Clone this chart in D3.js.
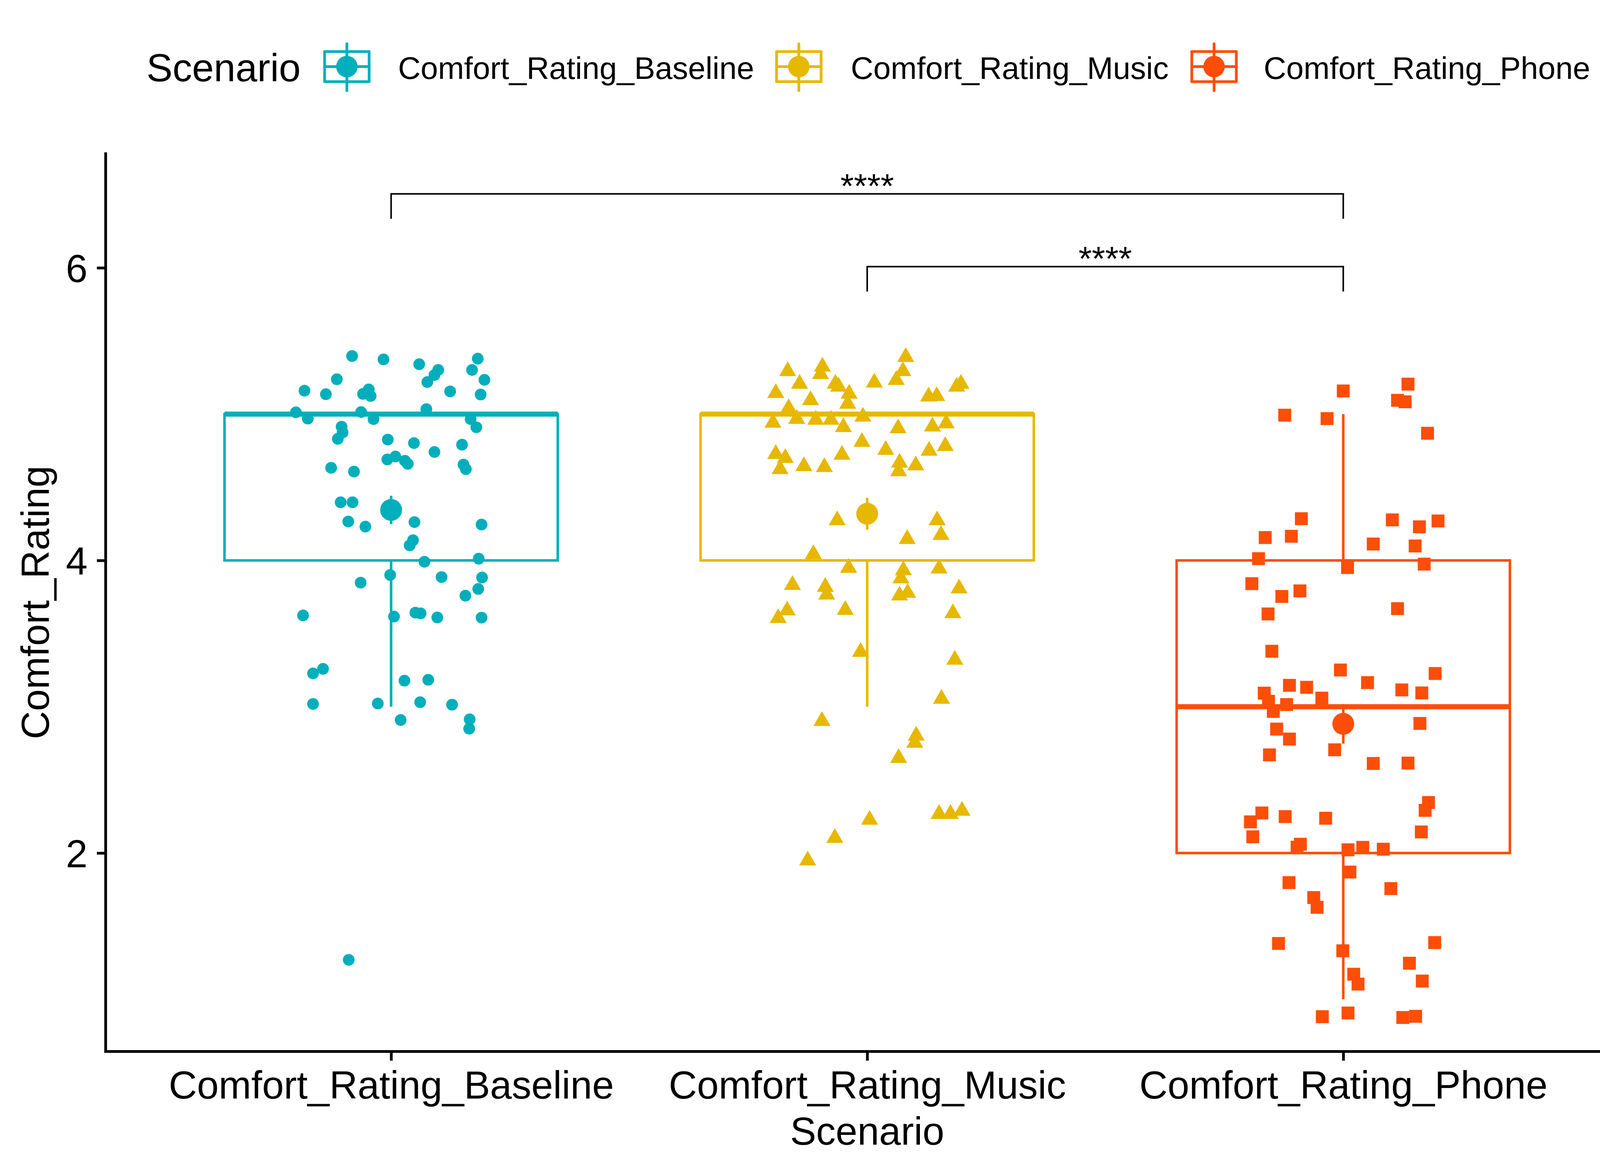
<!DOCTYPE html>
<html><head><meta charset="utf-8">
<script src="https://cdn.jsdelivr.net/npm/d3@7"></script>
<style>
body{margin:0;background:#fff}
svg{display:block;background:#fff}
text{font-family:"Liberation Sans",Arial,Helvetica,sans-serif;fill:#000}
</style>
</head><body>
<svg id="chart" width="4200" height="3000"></svg>
<script>
// ---------------- data ----------------
const categories = ["Comfort_Rating_Baseline", "Comfort_Rating_Music", "Comfort_Rating_Phone"];
const colors = ["#00AFBB", "#E7B800", "#FC4E07"];
const shapes = ["circle", "triangle", "square"];

// boxplot statistics
const q1 = [4, 4, 2];
const medians = [5, 5, 3];
const q3 = [5, 5, 4];
const whiskerLow = [3, 3, 1];
const whiskerHigh = [5, 5, 5];

// mean +/- se
const means = [4.345, 4.319, 2.883];
const meanSE = [0.097, 0.109, 0.135];

const yTicks = [2, 4, 6];

// significance brackets
const comparisons = [
  {from: 0, to: 2, y: 6.505, label: "****"},
  {from: 1, to: 2, y: 6.008, label: "****"}
];
const bracketTip = 0.17;

// jittered points: [horizontal jitter (category units), value]
const baselinePoints = [
  [-0.082,5.397],[-0.016,5.374],[0.059,5.341],[0.182,5.379],[0.099,5.302],[0.091,5.267],[0.076,5.219],[0.170,5.302],[0.196,5.234],[-0.114,5.238],
  [-0.182,5.160],[-0.137,5.136],[-0.047,5.169],[-0.059,5.138],[-0.043,5.124],[0.124,5.155],[0.188,5.134],[-0.200,5.012],[-0.175,4.969],[-0.063,5.014],
  [-0.037,4.966],[0.074,5.034],[0.167,4.966],[0.179,4.910],[-0.104,4.914],[-0.102,4.874],[-0.112,4.831],[-0.007,4.826],[0.048,4.802],[0.091,4.741],
  [0.149,4.791],[-0.008,4.690],[0.009,4.710],[0.029,4.681],[0.035,4.660],[0.152,4.655],[0.157,4.624],[-0.126,4.633],[-0.078,4.607],[-0.106,4.397],
  [-0.081,4.397],[-0.090,4.266],[-0.054,4.231],[0.049,4.262],[0.190,4.245],[0.046,4.138],[0.039,4.103],[0.070,3.991],[0.184,4.012],[-0.002,3.900],
  [-0.064,3.848],[0.106,3.886],[0.191,3.883],[0.183,3.805],[0.156,3.759],[-0.185,3.624],[0.006,3.616],[0.051,3.643],[0.062,3.638],[0.097,3.610],
  [0.190,3.609],[-0.143,3.259],[-0.164,3.228],[0.028,3.178],[0.078,3.184],[-0.164,3.019],[-0.028,3.022],[0.061,3.031],[0.128,3.014],[0.020,2.909],
  [0.165,2.914],[0.164,2.850],[-0.089,1.270]
];
const musicPoints = [
  [0.081,5.390],[0.075,5.293],[0.061,5.233],[-0.167,5.293],[-0.094,5.324],[-0.098,5.273],[-0.142,5.207],[-0.067,5.207],[-0.060,5.187],[0.015,5.215],
  [0.188,5.187],[0.197,5.207],[-0.192,5.144],[-0.119,5.095],[-0.038,5.139],[0.129,5.120],[0.146,5.123],[-0.041,5.070],[-0.165,5.040],[-0.148,4.967],
  [-0.198,4.941],[-0.108,4.961],[-0.076,4.961],[-0.009,4.982],[-0.050,4.911],[0.065,4.903],[0.137,4.915],[0.166,4.936],[-0.011,4.810],[0.039,4.755],
  [0.130,4.749],[0.164,4.781],[-0.192,4.727],[-0.172,4.700],[-0.183,4.624],[-0.133,4.644],[-0.090,4.638],[-0.053,4.722],[0.068,4.668],[0.066,4.609],
  [0.102,4.649],[-0.063,4.274],[0.147,4.274],[0.155,4.174],[0.084,4.146],[-0.113,4.043],[-0.039,3.949],[0.076,3.932],[0.151,3.944],[0.071,3.877],
  [-0.157,3.832],[-0.088,3.819],[-0.085,3.766],[0.068,3.760],[0.085,3.778],[0.193,3.808],[-0.168,3.658],[-0.187,3.606],[-0.046,3.661],[0.180,3.639],
  [-0.014,3.375],[0.184,3.321],[0.156,3.054],[-0.095,2.902],[0.103,2.802],[0.100,2.753],[0.066,2.649],[0.005,2.227],[0.151,2.267],[0.175,2.267],
  [0.199,2.289],[-0.068,2.103],[-0.125,1.949]
];
const phonePoints = [
  [0.136,5.205],[0.000,5.158],[0.114,5.094],[0.130,5.084],[-0.123,4.993],[-0.034,4.969],[0.177,4.869],[-0.088,4.285],[0.103,4.277],[0.199,4.270],
  [0.160,4.230],[-0.164,4.156],[-0.109,4.165],[0.063,4.112],[0.151,4.099],[-0.178,4.012],[0.009,3.951],[0.170,3.975],[-0.192,3.841],[-0.129,3.754],
  [-0.091,3.792],[-0.158,3.634],[0.114,3.670],[-0.150,3.379],[-0.006,3.251],[0.051,3.165],[0.193,3.227],[-0.113,3.146],[-0.077,3.133],[-0.166,3.093],
  [0.123,3.115],[0.165,3.094],[-0.045,3.059],[-0.157,3.037],[-0.119,3.015],[-0.147,2.968],[-0.140,2.847],[-0.113,2.779],[-0.155,2.671],[-0.018,2.706],
  [0.161,2.886],[0.063,2.612],[0.136,2.615],[0.179,2.345],[0.172,2.292],[-0.171,2.274],[-0.195,2.213],[-0.122,2.249],[-0.037,2.238],[-0.190,2.111],
  [0.164,2.144],[-0.090,2.060],[-0.097,2.040],[0.010,2.022],[0.041,2.039],[0.084,2.026],[0.014,1.870],[-0.114,1.798],[0.100,1.757],[-0.062,1.696],
  [-0.055,1.629],[-0.136,1.382],[-0.001,1.332],[0.192,1.388],[0.139,1.247],[0.022,1.172],[0.031,1.104],[0.166,1.125],[-0.044,0.881],[0.010,0.907],
  [0.125,0.876],[0.152,0.884]
];
const groupPoints = [baselinePoints, musicPoints, phonePoints];

// ---------------- layout ----------------
const svg = d3.select("#chart");
const x = d3.scalePoint().domain(categories).range([270, 4170]).padding(0.6);
const step = x.step();
const y = d3.scaleLinear().domain([0.645, 6.781]).range([2691, 393]);
const boxHalf = 0.35 * step;
const lw = 6.5;

const symbolTypes = {circle: d3.symbolCircle, triangle: d3.symbolTriangle, square: d3.symbolSquare};
const symbolSizes = {circle: Math.PI * 15 * 15, triangle: 823, square: 1089};

// ---------------- boxplots ----------------
const gBox = svg.append("g");
categories.forEach((c, i) => {
  const cx = x(c);
  const g = gBox.append("g").attr("stroke", colors[i]).attr("stroke-width", lw);
  if (whiskerLow[i] < q1[i]) g.append("line").attr("x1", cx).attr("x2", cx).attr("y1", y(q1[i])).attr("y2", y(whiskerLow[i]));
  if (whiskerHigh[i] > q3[i]) g.append("line").attr("x1", cx).attr("x2", cx).attr("y1", y(q3[i])).attr("y2", y(whiskerHigh[i]));
  g.append("rect").attr("x", cx - boxHalf).attr("y", y(q3[i])).attr("width", 2 * boxHalf)
    .attr("height", y(q1[i]) - y(q3[i])).attr("fill", "#fff");
  g.append("line").attr("x1", cx - boxHalf).attr("x2", cx + boxHalf)
    .attr("y1", y(medians[i])).attr("y2", y(medians[i])).attr("stroke-width", lw * 2);
});

// ---------------- jitter points ----------------
const gPts = svg.append("g");
groupPoints.forEach((pts, i) => {
  const sym = d3.symbol().type(symbolTypes[shapes[i]]).size(symbolSizes[shapes[i]]);
  gPts.append("g").selectAll("path").data(pts).join("path")
    .attr("d", sym)
    .attr("transform", d => `translate(${x(categories[i]) + d[0] * step},${y(d[1])})`)
    .attr("fill", colors[i]);
});

// ---------------- mean +/- se ----------------
const gMean = svg.append("g");
categories.forEach((c, i) => {
  const cx = x(c);
  gMean.append("line").attr("x1", cx).attr("x2", cx)
    .attr("y1", y(means[i] - meanSE[i])).attr("y2", y(means[i] + meanSE[i]))
    .attr("stroke", colors[i]).attr("stroke-width", lw);
  gMean.append("circle").attr("cx", cx).attr("cy", y(means[i])).attr("r", 28).attr("fill", colors[i]);
});

// ---------------- axes ----------------
const yAxis = d3.axisLeft(y).tickValues(yTicks).tickSize(22).tickPadding(24).tickSizeOuter(0).tickFormat(d3.format("d"));
const gy = svg.append("g").attr("transform", "translate(270,0)").call(yAxis);
gy.selectAll("text").attr("font-size", 100).attr("dy", "0.36em").attr("fill", "#000");

const xAxis = d3.axisBottom(x).tickSize(24).tickPadding(26).tickSizeOuter(0);
const gx = svg.append("g").attr("transform", "translate(0,2691)").call(xAxis);
gx.selectAll("text").attr("font-size", 100).attr("fill", "#000");

[gx, gy].forEach(g => {
  g.select(".domain").attr("stroke", "#000").attr("stroke-width", 7).attr("stroke-linecap", "square");
  g.selectAll(".tick line").attr("stroke", "#000").attr("stroke-width", 7);
  g.selectAll("text").style("font-family", '"Liberation Sans",Arial,sans-serif');
});

svg.append("text").attr("x", 2220).attr("y", 2930).attr("text-anchor", "middle")
  .attr("font-size", 100).text("Scenario");
svg.append("text").attr("transform", "translate(125,1542) rotate(-90)").attr("text-anchor", "middle")
  .attr("font-size", 100).text("Comfort_Rating");

// ---------------- significance brackets ----------------
const gSig = svg.append("g");
comparisons.forEach(cmp => {
  const x1 = x(categories[cmp.from]), x2 = x(categories[cmp.to]);
  gSig.append("path")
    .attr("d", `M${x1},${y(cmp.y - bracketTip)}V${y(cmp.y)}H${x2}V${y(cmp.y - bracketTip)}`)
    .attr("fill", "none").attr("stroke", "#000").attr("stroke-width", 4);
  gSig.append("text").attr("x", (x1 + x2) / 2).attr("y", y(cmp.y) + 10)
    .attr("text-anchor", "middle").attr("font-size", 88).text(cmp.label);
});

// ---------------- legend ----------------
const gLeg = svg.append("g");
gLeg.append("text").attr("x", 375).attr("y", 208).attr("font-size", 100).text("Scenario");
const keyCenters = [888, 2045, 3108];
const labelX = [1019, 2178, 3235];
categories.forEach((c, i) => {
  const kx = keyCenters[i];
  const g = gLeg.append("g").attr("stroke", colors[i]).attr("stroke-width", 7)
    .attr("stroke-linecap", "round").attr("stroke-linejoin", "round");
  g.append("rect").attr("x", kx - 57).attr("y", 132).attr("width", 114).attr("height", 77).attr("fill", "#fff");
  g.append("line").attr("x1", kx).attr("x2", kx).attr("y1", 112).attr("y2", 232);
  g.append("line").attr("x1", kx - 57).attr("x2", kx + 57).attr("y1", 170.5).attr("y2", 170.5);
  gLeg.append("circle").attr("cx", kx).attr("cy", 170.5).attr("r", 27.5).attr("fill", colors[i]);
  gLeg.append("text").attr("x", labelX[i]).attr("y", 202).attr("font-size", 80).text(c);
});
</script>
</body></html>
